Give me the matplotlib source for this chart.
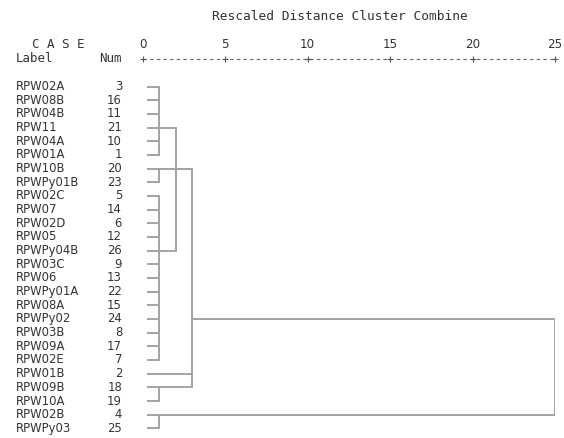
import matplotlib.pyplot as plt
import matplotlib.transforms as mtransforms

LABELS = ["RPW02A", "RPW08B", "RPW04B", "RPW11", "RPW04A", "RPW01A", "RPW10B",
          "RPWPy01B", "RPW02C", "RPW07", "RPW02D", "RPW05", "RPWPy04B", "RPW03C",
          "RPW06", "RPWPy01A", "RPW08A", "RPWPy02", "RPW03B", "RPW09A", "RPW02E",
          "RPW01B", "RPW09B", "RPW10A", "RPW02B", "RPWPy03"]
NUMS = [3, 16, 11, 21, 10, 1, 20, 23, 5, 14, 6, 12, 26, 9, 13, 22, 15, 24, 8,
        17, 7, 2, 18, 19, 4, 25]

# clusters: children (leaf rows as ints, other clusters as names), rescaled distance, row of outgoing line
CLUSTER_NAMES = ["A", "B", "C", "D", "E", "AC", "F", "G"]
CLUSTER_CHILDREN = [list(range(0, 6)), [6, 7], list(range(8, 21)), [22, 23], [24, 25],
                    ["A", "C"], ["B", "AC", 21, "D"], ["F", "E"]]
CLUSTER_DIST = [1, 1, 1, 1, 1, 2, 3, 25]
CLUSTER_OUT_ROW = [3, 6, 12, 22, 24, 6, 17, 17]

LEAF_DIST = 0.25
TICKS = [0, 5, 10, 15, 20, 25]

W, H = 564, 438
LINE_COLOR = "#a3a3a3"
TEXT_COLOR = "#333333"

fig = plt.figure(figsize=(W / 100, H / 100), dpi=100)
x0, x25 = 142.7, 555.0
ax = fig.add_axes([x0 / W, 0, (x25 - x0) / W, 1])
row0, row_step = 86.6, 13.67
ax.set_xlim(0, 25)
ax.set_ylim((H - row0) / row_step, -row0 / row_step)
ax.axis("off")

dist = {}
out_row = {}
for name, children, d, r in zip(CLUSTER_NAMES, CLUSTER_CHILDREN, CLUSTER_DIST, CLUSTER_OUT_ROW):
    rows = []
    for c in children:
        cd = LEAF_DIST if isinstance(c, int) else dist[c]
        cr = c if isinstance(c, int) else out_row[c]
        ax.plot([cd, d], [cr, cr], color=LINE_COLOR, lw=1.4, solid_capstyle="butt")
        rows.append(cr)
    ax.plot([d, d], [min(rows), max(rows)], color=LINE_COLOR, lw=1.4, solid_capstyle="projecting")
    dist[name] = d
    out_row[name] = r

# row labels
trans = mtransforms.blended_transform_factory(fig.transFigure, ax.transData)
for i, (lab, num) in enumerate(zip(LABELS, NUMS)):
    ax.text(16 / W, i, lab, transform=trans, ha="left", va="center",
            fontsize=8.4, color=TEXT_COLOR)
    ax.text(122 / W, i, str(num), transform=trans, ha="right", va="center",
            fontsize=8.4, color=TEXT_COLOR)

# header
def ypix(p):
    return (p - row0) / row_step

mono = "DejaVu Sans Mono"
ax.text(340 / W, ypix(17), "Rescaled Distance Cluster Combine", transform=trans,
        ha="center", va="center", fontsize=9.3, family=mono, color=TEXT_COLOR)
ax.text(32 / W, ypix(45), "C A S E", transform=trans, ha="left", va="center",
        fontsize=9, family=mono, color=TEXT_COLOR)
ax.text(16 / W, ypix(59), "Label", transform=trans, ha="left", va="center",
        fontsize=9, family=mono, color=TEXT_COLOR)
ax.text(122 / W, ypix(59), "Num", transform=trans, ha="right", va="center",
        fontsize=9, family=mono, color=TEXT_COLOR)

for t in TICKS:
    ax.text(t, ypix(45), str(t), ha="center", va="center", fontsize=8.6, color=TEXT_COLOR)
ax.plot([TICKS[0], TICKS[-1]], [ypix(59), ypix(59)], color="#666666", lw=0.8,
        linestyle=(0, (3, 3)), clip_on=False)
ax.plot(TICKS, [ypix(59)] * len(TICKS), linestyle="none", marker="+", ms=5,
        mew=0.8, color="#555555", clip_on=False)

fig.savefig("out.png", dpi=100, facecolor="white")
